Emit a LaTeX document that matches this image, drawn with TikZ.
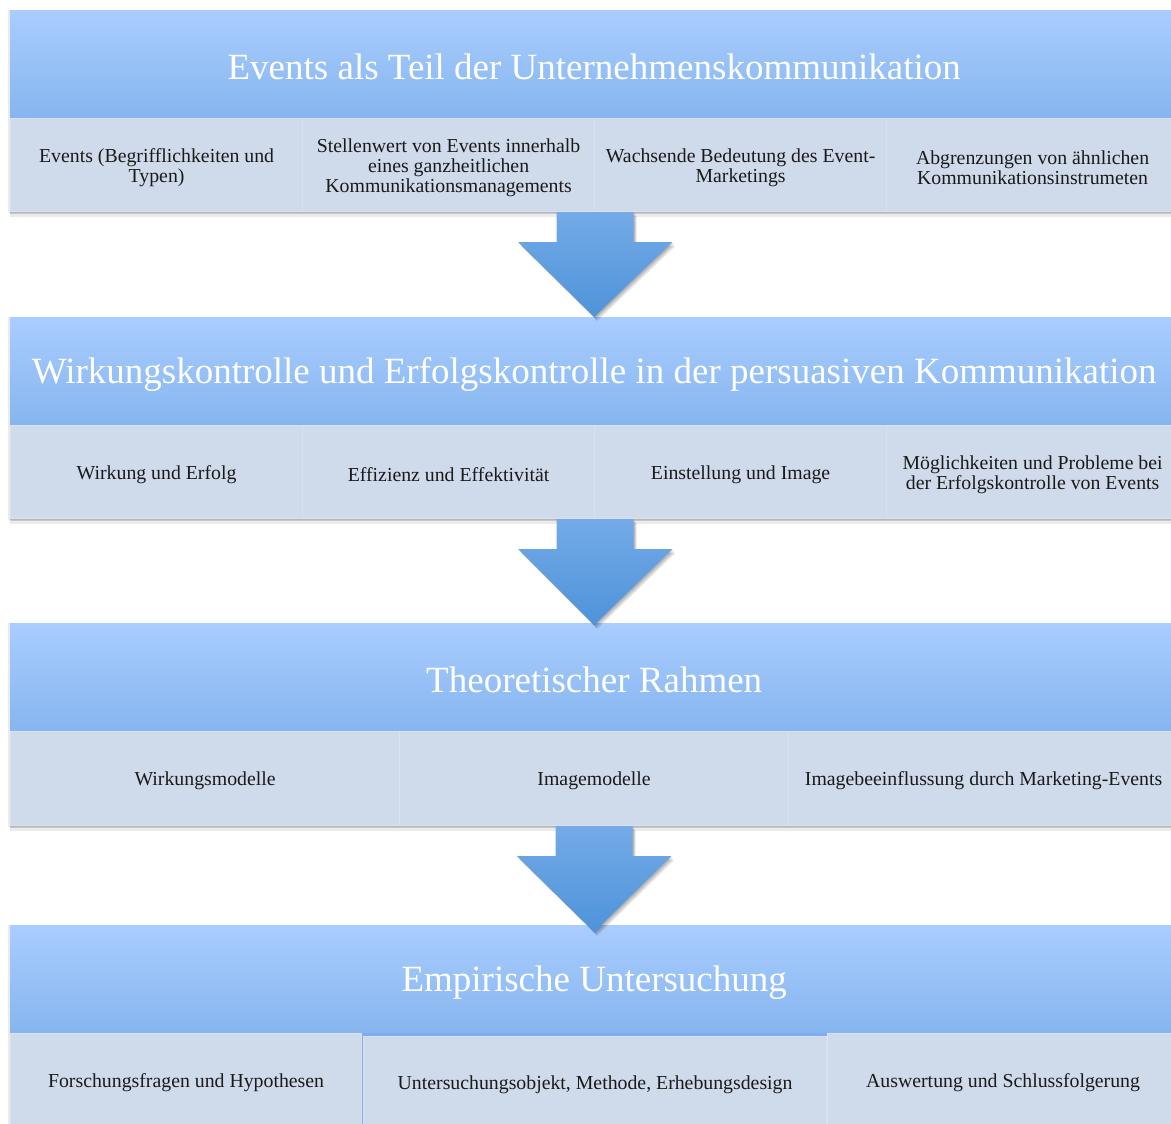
\documentclass[tikz,border=0pt]{standalone}
\usepackage{fontspec}
\setmainfont{Liberation Serif}
\usetikzlibrary{calc}

\definecolor{hdrtop}{HTML}{A9CDFE}
\definecolor{hdrbot}{HTML}{86B5EF}
\definecolor{cellfill}{HTML}{CFDAEB}
\definecolor{celledge}{HTML}{D9E0EE}
\definecolor{arrtop}{HTML}{74AAE7}
\definecolor{arrbot}{HTML}{4E93D9}
\definecolor{celltext}{HTML}{1A1A1A}

\tikzset{
  header/.style={rectangle, anchor=north west, minimum width=1168, minimum height=108,
    inner sep=0, top color=hdrtop, bottom color=hdrbot,
    label={[text=white, font=\fontsize{37}{42}\selectfont, yshift=-3]center:#1}},
  cell/.style={rectangle, anchor=north west, minimum height=93, inner sep=0,
    fill=cellfill, draw=celledge, line width=1.2,
    label={[align=center, text=celltext, font=\fontsize{19.8}{20}\selectfont,
      yshift=-2.5]center:#1}},
  rowshadow/.style={fill=black, opacity=#1},
}

% block arrow: #1 = top centre of the shaft, #2 = tip
\newcommand\flowarrow[2]{%
  \foreach \dx/\dy/\op in {3/4/.10, 2/2.5/.12, 1/1/.12}{%
    \fill[black, opacity=\op] ($(#1)+(-38.5+\dx,\dy)$) -- ($(#1)+(38.5+\dx,\dy)$)
      -- ($(#1)+(38.5+\dx,30+\dy)$) -- ($(#1)+(77+\dx,30+\dy)$) -- ($(#2)+(\dx,\dy)$)
      -- ($(#1)+(-77+\dx,30+\dy)$) -- ($(#1)+(-38.5+\dx,30+\dy)$) -- cycle;}
  \shade[top color=arrtop, bottom color=arrbot]
    ($(#1)+(-38.5,0)$) -- ($(#1)+(38.5,0)$) -- ($(#1)+(38.5,30)$)
    -- ($(#1)+(77,30)$) -- (#2) -- ($(#1)+(-77,30)$) -- ($(#1)+(-38.5,30)$) -- cycle;
}

\begin{document}
\begin{tikzpicture}[x=1pt, y=-1pt]
\useasboundingbox (0,0) rectangle (1171,1124);
\clip (0,0) rectangle (1171,1124);
\fill[white] (0,0) rectangle (1171,1124);

% ---- section 1
\fill[black, opacity=.08] (8,10) rectangle (1178,213);
\node[header={Events als Teil der Unternehmenskommunikation}] (h1) at (10,10) {};
\fill[rowshadow=.22] (10,211) rectangle (1178,214);
\fill[rowshadow=.08] (10,214) rectangle (1178,217);
\node[cell={Events (Begrifflichkeiten und\\Typen)}, minimum width=292] (a1) at (10,118) {};
\node[cell={Stellenwert von Events innerhalb\\eines ganzheitlichen\\Kommunikationsmanagements}, minimum width=292] (a2) at (302,118) {};
\node[cell={Wachsende Bedeutung des Event-\\Marketings}, minimum width=292] (a3) at (594,118) {};
\node[cell={Abgrenzungen von ähnlichen\\Kommunikationsinstrumeten}, minimum width=292] (a4) at (886,118) {};

% ---- section 2
\fill[black, opacity=.08] (8,317) rectangle (1178,520);
\node[header={Wirkungskontrolle und Erfolgskontrolle in der persuasiven Kommunikation}] (h2) at (10,317) {};
\fill[rowshadow=.22] (10,518) rectangle (1178,521);
\fill[rowshadow=.08] (10,521) rectangle (1178,524);
\node[cell={Wirkung und Erfolg}, minimum width=292] (b1) at (10,425) {};
\node[cell={Effizienz und Effektivität}, minimum width=292] (b2) at (302,425) {};
\node[cell={Einstellung und Image}, minimum width=292] (b3) at (594,425) {};
\node[cell={Möglichkeiten und Probleme bei\\der Erfolgskontrolle von Events}, minimum width=292] (b4) at (886,425) {};

% ---- section 3
\fill[black, opacity=.08] (8,623) rectangle (1178,827);
\node[header={Theoretischer Rahmen}] (h3) at (10,623) {};
\fill[rowshadow=.22] (10,825) rectangle (1178,828);
\fill[rowshadow=.08] (10,828) rectangle (1178,831);
\node[cell={Wirkungsmodelle}, minimum width=389, minimum height=94] (c1) at (10,731) {};
\node[cell={Imagemodelle}, minimum width=389, minimum height=94] (c2) at (399,731) {};
\node[cell={Imagebeeinflussung durch Marketing-Events}, minimum width=390, minimum height=94] (c3) at (788,731) {};

% ---- section 4
\fill[black, opacity=.08] (8,925) rectangle (1178,1124);
\node[header={Empirische Untersuchung}] (h4) at (10,925) {};
\fill[hdrbot!95!blue] (10,1033) rectangle (1178,1124);
\node[cell={Forschungsfragen und Hypothesen}, minimum width=351] (d1) at (10,1033) {};
\node[cell={Untersuchungsobjekt, Methode, Erhebungsdesign}, minimum width=463, minimum height=91] (d2) at (363,1036) {};
\node[cell={Auswertung und Schlussfolgerung}, minimum width=351] (d3) at (827,1033) {};

% ---- arrows between the sections
\flowarrow{a2.south east}{h2.north}
\flowarrow{b2.south east}{$(h3.north)+(0,2)$}
\flowarrow{c2.south}{$(h4.north)+(0,7)$}
\end{tikzpicture}
\end{document}
